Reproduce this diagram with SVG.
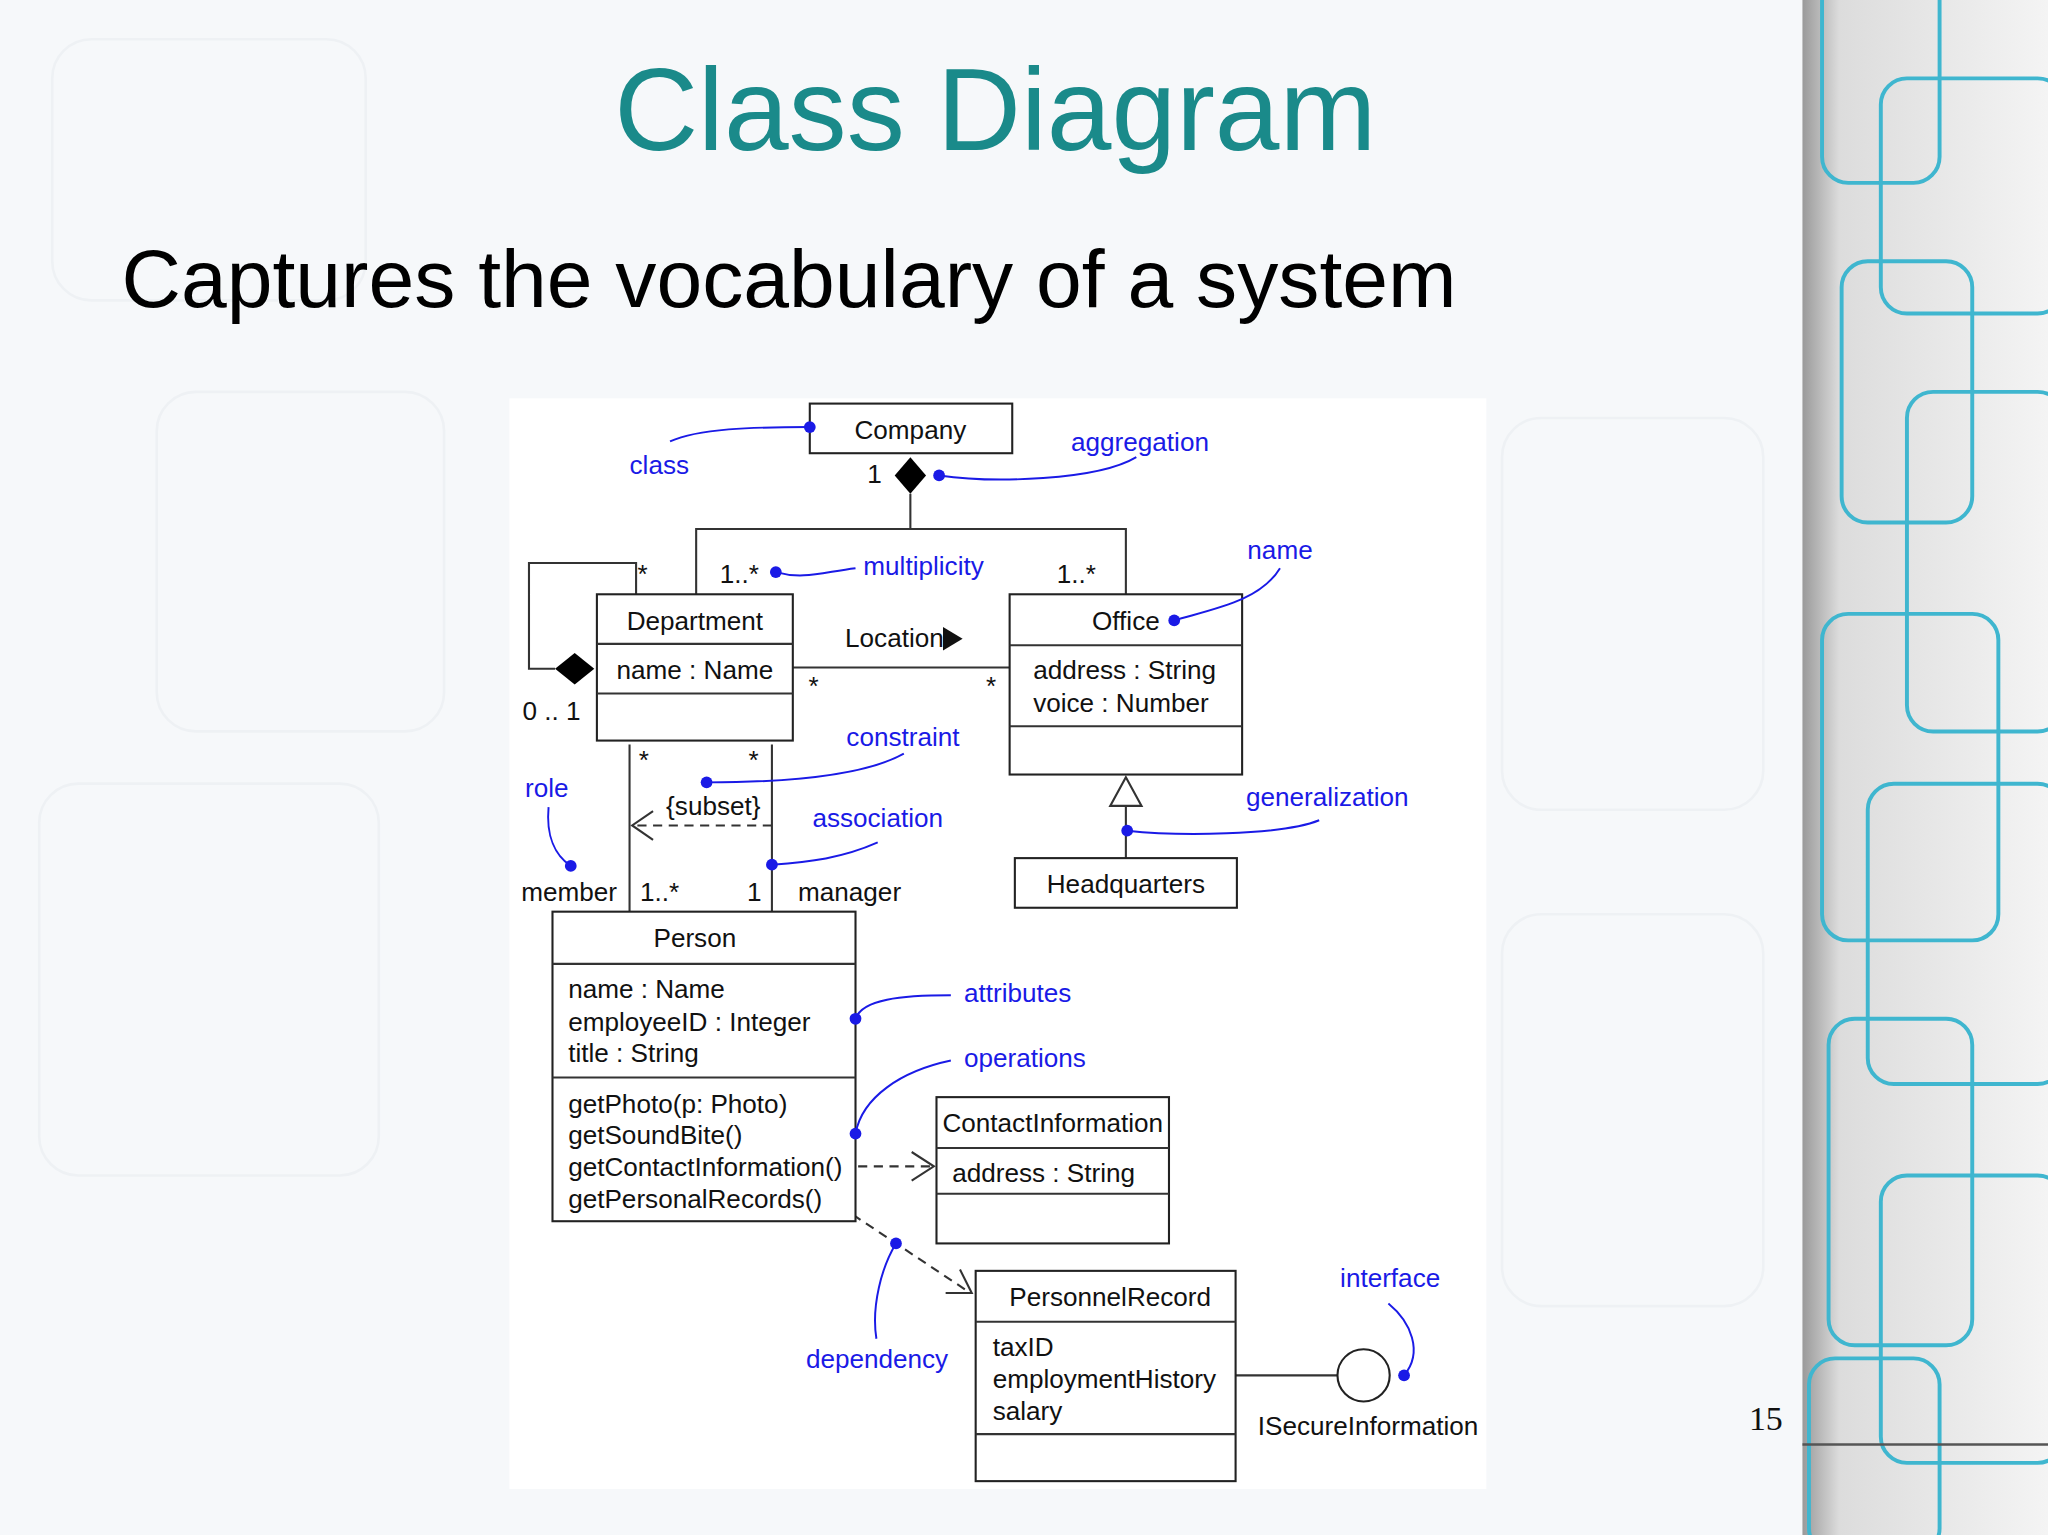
<svg xmlns="http://www.w3.org/2000/svg" width="2048" height="1535" viewBox="0 0 2048 1535">
<defs>
<style>
.t{font-family:"Liberation Sans",Arial,sans-serif;font-size:20px;fill:#111}
.c{text-anchor:middle}
.b{font-family:"Liberation Sans",Arial,sans-serif;font-size:20px;fill:#1a1ae6}
.bx{fill:#fff;stroke:#222;stroke-width:1.6}
.ln{fill:none;stroke:#333;stroke-width:1.6}
.da{fill:none;stroke:#333;stroke-width:1.6;stroke-dasharray:7 5}
.bl{fill:none;stroke:#1a1ae6;stroke-width:1.5}
.dot{fill:#1a1ae6}
.pat{fill:none;stroke-width:3;stroke:#3fb6cf}
.pg{fill:none;stroke:#eef1f4;stroke-width:2}
</style>
<linearGradient id="sh" x1="0" x2="1" y1="0" y2="0">
<stop offset="0" stop-color="#9a9a9a"/><stop offset="0.15" stop-color="#dcdcdc"/><stop offset="1" stop-color="#f4f4f4"/>
</linearGradient>
</defs>
<g transform="scale(1.30612)">
<rect width="1568" height="1176" fill="#f6f8fa"/>
<g id="bgpattern">
<rect x="40" y="30" width="240" height="200" rx="30" class="pg"/>
<rect x="120" y="300" width="220" height="260" rx="30" class="pg"/>
<rect x="30" y="600" width="260" height="300" rx="30" class="pg"/>
<rect x="1150" y="320" width="200" height="300" rx="30" class="pg"/>
<rect x="1150" y="700" width="200" height="300" rx="30" class="pg"/>
</g>
<rect x="390" y="305" width="748" height="835" fill="#fff"/>
<g id="rightband">
<rect x="1380" y="0" width="188" height="1176" fill="url(#sh)"/>
<rect x="1395" y="-20" width="90" height="160" rx="20" class="pat"/>
<rect x="1440" y="60" width="140" height="180" rx="20" class="pat"/>
<rect x="1410" y="200" width="100" height="200" rx="20" class="pat" stroke="#7a7fc8"/>
<rect x="1460" y="300" width="120" height="260" rx="20" class="pat"/>
<rect x="1395" y="470" width="135" height="250" rx="20" class="pat" stroke="#3a3a80"/>
<rect x="1430" y="600" width="150" height="230" rx="20" class="pat"/>
<rect x="1400" y="780" width="110" height="250" rx="20" class="pat"/>
<rect x="1440" y="900" width="140" height="220" rx="20" class="pat"/>
<rect x="1385" y="1040" width="100" height="150" rx="20" class="pat"/>
<line x1="1380" y1="1106" x2="1568" y2="1106" stroke="#555" stroke-width="2"/>
</g>
<text x="762" y="115" text-anchor="middle" font-family="'Liberation Sans',Arial,sans-serif" font-size="89" fill="#1a8a8a">Class Diagram</text>
<text x="93" y="235" font-family="'Liberation Sans',Arial,sans-serif" font-size="63" fill="#000">Captures the vocabulary of a system</text>
<text x="1352" y="1095" text-anchor="middle" font-family="'Liberation Serif',serif" font-size="26" fill="#111">15</text>

<g id="connectors">
<polygon points="697,350 709,364 697,378 685,364" fill="#000"/>
<polyline class="ln" points="697,378 697,405"/>
<polyline class="ln" points="533,455 533,405 862,405 862,455"/>
<polyline class="ln" points="487,455 487,431 405,431 405,512 425,512"/>
<polygon points="425,512 440,500 455,512 440,524" fill="#000"/>
<line class="ln" x1="607" y1="511" x2="773" y2="511"/>
<polygon points="722,480 737,489 722,498" fill="#111"/>
<polygon points="862,595 874,617 850,617" fill="#fff" stroke="#333" stroke-width="1.6"/>
<line class="ln" x1="862" y1="617" x2="862" y2="657"/>
<line class="ln" x1="482" y1="570" x2="482" y2="698"/>
<line class="ln" x1="591" y1="570" x2="591" y2="698"/>
<line class="da" x1="591" y1="632" x2="486" y2="632"/>
<polyline class="ln" points="500,621 484,632 500,643"/>
<line class="da" x1="657" y1="893" x2="713" y2="893"/>
<polyline class="ln" points="698,882 715,893 698,904"/>
<line class="da" x1="653" y1="930" x2="743" y2="990"/>
<polyline class="ln" points="735,972 744,990 724,990"/>
<line class="ln" x1="946" y1="1053" x2="1024" y2="1053"/>
<circle cx="1044" cy="1053" r="20" fill="#fff" stroke="#222" stroke-width="1.6"/>
</g>

<g id="Company"><rect class="bx" x="620" y="309" width="155" height="38"/><text class="t c" x="697" y="336">Company</text></g>
<g id="Department"><rect class="bx" x="457" y="455" width="150" height="112"/><line class="ln" x1="457" y1="493" x2="607" y2="493"/><line class="ln" x1="457" y1="531" x2="607" y2="531"/><text class="t c" x="532" y="482">Department</text><text class="t c" x="532" y="520">name : Name</text></g>
<g id="Office"><rect class="bx" x="773" y="455" width="178" height="138"/><line class="ln" x1="773" y1="494" x2="951" y2="494"/><line class="ln" x1="773" y1="556" x2="951" y2="556"/><text class="t c" x="862" y="482">Office</text><text class="t" x="791" y="520">address : String</text><text class="t" x="791" y="545">voice : Number</text></g>
<g id="Headquarters"><rect class="bx" x="777" y="657" width="170" height="38"/><text class="t c" x="862" y="684">Headquarters</text></g>
<g id="Person"><rect class="bx" x="423" y="698" width="232" height="237"/><line class="ln" x1="423" y1="738" x2="655" y2="738"/><line class="ln" x1="423" y1="825" x2="655" y2="825"/><text class="t c" x="532" y="725">Person</text>
<text class="t" x="435" y="764">name : Name</text><text class="t" x="435" y="789">employeeID : Integer</text><text class="t" x="435" y="813">title : String</text>
<text class="t" x="435" y="852">getPhoto(p: Photo)</text><text class="t" x="435" y="876">getSoundBite()</text><text class="t" x="435" y="900">getContactInformation()</text><text class="t" x="435" y="925">getPersonalRecords()</text></g>
<g id="ContactInformation"><rect class="bx" x="717" y="840" width="178" height="112"/><line class="ln" x1="717" y1="879" x2="895" y2="879"/><line class="ln" x1="717" y1="914" x2="895" y2="914"/><text class="t c" x="806" y="867">ContactInformation</text><text class="t" x="729" y="905">address : String</text></g>
<g id="PersonnelRecord"><rect class="bx" x="747" y="973" width="199" height="161"/><line class="ln" x1="747" y1="1012" x2="946" y2="1012"/><line class="ln" x1="747" y1="1098" x2="946" y2="1098"/><text class="t c" x="850" y="1000">PersonnelRecord</text><text class="t" x="760" y="1038">taxID</text><text class="t" x="760" y="1063">employmentHistory</text><text class="t" x="760" y="1087">salary</text></g>

<g id="labels">
<text class="t" x="664" y="370">1</text>
<text class="t" x="551" y="446">1..*</text>
<text class="t" x="809" y="446">1..*</text>
<text class="t" x="488" y="446">*</text>
<text class="t" x="400" y="551">0 .. 1</text>
<text class="t" x="647" y="495">Location</text>
<text class="t" x="619" y="532">*</text>
<text class="t" x="755" y="532">*</text>
<text class="t" x="489" y="589">*</text>
<text class="t" x="573" y="589">*</text>
<text class="t" x="510" y="624">{subset}</text>
<text class="t" x="399" y="690">member</text>
<text class="t" x="490" y="690">1..*</text>
<text class="t" x="572" y="690">1</text>
<text class="t" x="611" y="690">manager</text>
<text class="t" x="963" y="1099">ISecureInformation</text>
</g>

<g id="annotations">
<text class="b" x="482" y="363">class</text><path class="bl" d="M513,338 C535,328 575,327 620,327"/><circle class="dot" cx="620" cy="327" r="4.5"/>
<text class="b" x="820" y="345">aggregation</text><path class="bl" d="M719,364 C760,370 840,368 870,350"/><circle class="dot" cx="719" cy="364" r="4.5"/>
<text class="b" x="661" y="440">multiplicity</text><path class="bl" d="M594,438 C615,444 630,438 655,435"/><circle class="dot" cx="594" cy="438" r="4.5"/>
<text class="b" x="955" y="428">name</text><path class="bl" d="M980,435 C965,460 930,466 899,475"/><circle class="dot" cx="899" cy="475" r="4.5"/>
<text class="b" x="648" y="571">constraint</text><path class="bl" d="M692,577 C660,595 600,599 541,599"/><circle class="dot" cx="541" cy="599" r="4.5"/>
<text class="b" x="954" y="617">generalization</text><path class="bl" d="M863,636 C900,640 980,640 1010,628"/><circle class="dot" cx="863" cy="636" r="4.5"/>
<text class="b" x="622" y="633">association</text><path class="bl" d="M672,645 C645,657 620,660 591,662"/><circle class="dot" cx="591" cy="662" r="4.5"/>
<text class="b" x="402" y="610">role</text><path class="bl" d="M420,618 C418,640 425,655 437,663"/><circle class="dot" cx="437" cy="663" r="4.5"/>
<text class="b" x="738" y="767">attributes</text><path class="bl" d="M728,762 C690,762 660,765 655,780"/><circle class="dot" cx="655" cy="780" r="4.5"/>
<text class="b" x="738" y="817">operations</text><path class="bl" d="M728,812 C690,820 660,840 655,868"/><circle class="dot" cx="655" cy="868" r="4.5"/>
<text class="b" x="617" y="1047">dependency</text><path class="bl" d="M671,1025 C667,1000 675,970 686,952"/><circle class="dot" cx="686" cy="952" r="4.5"/>
<text class="b" x="1026" y="985">interface</text><path class="bl" d="M1063,998 C1080,1012 1090,1035 1075,1053"/><circle class="dot" cx="1075" cy="1053" r="4.5"/>
</g>
</g>
</svg>
